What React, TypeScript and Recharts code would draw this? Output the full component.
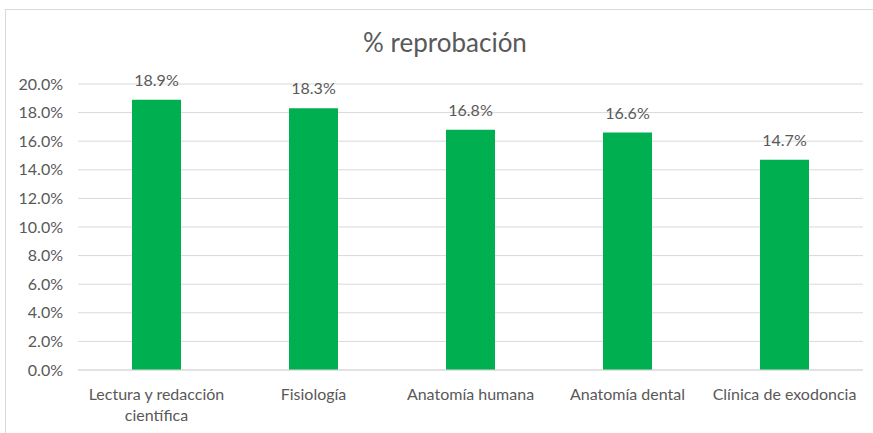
import React from 'react';
import { BarChart, Bar, XAxis, YAxis, CartesianGrid, LabelList, Text } from 'recharts';

const categories = [
  'Lectura y redacción científica',
  'Fisiología',
  'Anatomía humana',
  'Anatomía dental',
  'Clínica de exodoncia',
];
const reprobacion = [18.9, 18.3, 16.8, 16.6, 14.7];
const yTicks = [0, 2, 4, 6, 8, 10, 12, 14, 16, 18, 20];
const title = '% reprobación';

const data = categories.map((c, i) => ({ name: c, value: reprobacion[i] }));

const FONT = 'Lato, "Noto Sans", sans-serif';
const TXT = '#595959';

const XTick = (props: any) => {
  const { x, y, payload } = props;
  return (
    <Text
      x={x}
      y={y}
      width={150}
      textAnchor="middle"
      verticalAnchor="start"
      lineHeight={21}
      fontSize={16}
      fontFamily={FONT}
      fill={TXT}
    >
      {payload.value}
    </Text>
  );
};

export default function App() {
  return (
    <div style={{ position: 'absolute', left: 0, top: 0, width: 873, height: 433, overflow: 'hidden', background: '#fff' }}>
      <div
        style={{
          position: 'absolute',
          left: 5,
          top: 9,
          width: 880,
          height: 440,
          border: '1px solid #d9d9d9',
          boxSizing: 'border-box',
        }}
      />
      <div
        style={{
          position: 'absolute',
          left: 0,
          width: 890,
          top: 26,
          textAlign: 'center',
          fontFamily: FONT,
          fontSize: 26,
          color: TXT,
          lineHeight: '32px',
        }}
      >
        {title}
      </div>
      <div style={{ position: 'absolute', left: 0, top: 0 }}>
        <BarChart
          width={873}
          height={433}
          data={data}
          margin={{ top: 84, right: 10, bottom: 33, left: 0 }}
        >
          <CartesianGrid vertical={false} stroke="#d9d9d9" strokeWidth={1} />
          <XAxis
            dataKey="name"
            height={30}
            axisLine={{ stroke: '#d9d9d9' }}
            tickLine={false}
            tick={<XTick />}
            tickMargin={13}
            interval={0}
          />
          <YAxis
            width={78}
            domain={[0, 20]}
            ticks={yTicks}
            axisLine={false}
            tickLine={false}
            tickMargin={9}
            tickFormatter={(v: number) => `${v.toFixed(1)}%`}
            tick={{ fontSize: 16, fontFamily: FONT, fill: TXT }}
          />
          <Bar dataKey="value" fill="#00B050" barSize={49} isAnimationActive={false}>
            <LabelList
              dataKey="value"
              position="top"
              offset={14}
              formatter={(v: any) => `${Number(v).toFixed(1)}%`}
              style={{ fontSize: 16, fontFamily: FONT, fill: TXT }}
            />
          </Bar>
        </BarChart>
      </div>
    </div>
  );
}
